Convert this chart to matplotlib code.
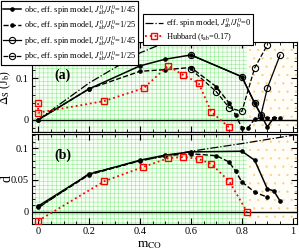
import numpy as np
import matplotlib
matplotlib.use('Agg')
from matplotlib import pyplot as plt

plt.rcParams['font.family'] = ['Liberation Serif', 'DejaVu Serif']
plt.rcParams['mathtext.fontset'] = 'stix'
plt.rcParams['hatch.linewidth'] = 0.35

# =============================================================================
# Data
# =============================================================================
# panel (a): spin gap
m_obc45_a = [0, 0.2, 0.4, 0.5, 0.6, 0.8, 0.85, 0.875, 0.9, 0.925]
gap_obc45 = [0, 0.074, 0.129, 0.145, 0.155, 0.103, 0.040, 0.012, -0.017, 0.005]
m_obc25_a = [0, 0.2, 0.4, 0.5, 0.6, 0.7, 0.75, 0.775, 0.8, 0.825, 0.85, 0.875, 0.9, 0.95]
gap_obc25 = [0, 0.074, 0.116, 0.120, 0.125, 0.079, 0.040, 0.012, -0.019, -0.019, 0.002, 0.005, 0.005, 0.005]
m_pbc45 = [0.6, 0.8, 0.85, 0.875, 0.9, 0.95]
gap_pbc45 = [0.155, 0.103, 0.040, 0.012, 0.076, 0.155]
m_pbc25 = [0.6, 0.7, 0.75, 0.8, 0.85, 0.9]
gap_pbc25 = [0.121, 0.067, 0.029, 0.020, 0.124, 0.179]
m_j0_a = [0, 0.2, 0.4, 0.6]
gap_j0 = [0, 0.088, 0.160, 0.210]
m_hub_a = [0, 0, 0.26, 0.415, 0.51, 0.57, 0.63, 0.68, 0.75]
gap_hub = [0.040, 0.017, 0.045, 0.076, 0.129, 0.107, 0.088, 0.019, -0.018]

# panel (b): d
m_obc45_b = [0, 0.2, 0.4, 0.5, 0.6, 0.8, 0.85, 0.9, 0.925, 0.95]
d_obc45 = [0.009, 0.059, 0.081, 0.089, 0.094, 0.095, 0.081, 0.036, 0.033, 0.017]
m_obc25_b = [0, 0.2, 0.4, 0.5, 0.6, 0.7, 0.75, 0.775, 0.8, 0.85, 0.9]
d_obc25 = [0.007, 0.058, 0.080, 0.088, 0.091, 0.088, 0.078, 0.064, 0.047, 0.031, 0.023]
m_j0_b = [0, 0.2, 0.4, 0.6, 0.8, 1.0]
d_j0 = [0.006, 0.060, 0.080, 0.095, 0.107, 0.120]
m_hub_b = [0, 0.26, 0.41, 0.51, 0.57, 0.63, 0.68, 0.75, 0.82]
d_hub = [-0.014, 0.048, 0.070, 0.084, 0.086, 0.083, 0.075, 0.048, 0.0]

m_border = 0.82

lab45 = r'obc, eff. spin model, $J^{0}_{\rm ab}/J^{0}_{\rm b}$=1/45'
lab25 = r'obc, eff. spin model, $J^{0}_{\rm ab}/J^{0}_{\rm b}$=1/25'
labp45 = r'pbc, eff. spin model, $J^{0}_{\rm ab}/J^{0}_{\rm b}$=1/45'
labp25 = r'pbc, eff. spin model, $J^{0}_{\rm ab}/J^{0}_{\rm b}$=1/25'
labj0 = r'eff. spin model, $J^{0}_{\rm ab}/J^{0}_{\rm b}$=0'
labhub = r'Hubbard (t$_{\rm ab}$=0.17)'

# =============================================================================
# Figure
# =============================================================================
fig = plt.figure(figsize=(2.99, 2.50), dpi=100)
ax1 = fig.add_axes([0.107, 0.472, 0.886, 0.360])
ax2 = fig.add_axes([0.107, 0.104, 0.886, 0.360])

def background(ax):
    ax.axvspan(-0.1, m_border, facecolor='#f6fff4', edgecolor='#8aec8a', hatch='++++', lw=0, zorder=0)
    ax.axvspan(m_border, 1.1, facecolor='#fffdf8', edgecolor='#ffcc80', hatch='..', lw=0, zorder=0)
    ax.axhline(0, color='k', lw=1.0, zorder=1)

def ticks(ax):
    ax.tick_params(which='both', direction='in', top=True, right=True, labelsize=7.5)
    ax.tick_params(which='major', length=4, width=0.8, pad=2.5)
    ax.tick_params(which='minor', length=2, width=0.6)
    ax.set_xticks(np.arange(0, 1.01, 0.2))
    ax.set_xticks(np.arange(0, 1.01, 0.05), minor=True)
    ax.set_xlim(-0.024, 1.016)

# panel (a)
#------------------------------------------------------------------------------
background(ax1)
ax1.plot(m_obc45_a, gap_obc45, 'k-', marker='o', ms=2.3, lw=1.1, label=lab45, zorder=3)
ax1.plot(m_obc25_a, gap_obc25, 'k--', marker='o', ms=2.3, lw=1.0, label=lab25, zorder=3)
ax1.plot(m_pbc45, gap_pbc45, 'k-', marker='o', ms=4.5, mfc='none', mew=0.8, lw=0.9, label=labp45, zorder=3)
ax1.plot(m_pbc25, gap_pbc25, 'k--', marker='o', ms=4.5, mfc='none', mew=0.8, lw=0.9, label=labp25, zorder=3)
ax1.plot(m_j0_a, gap_j0, 'k-.', lw=0.9, label=labj0, zorder=3)
ax1.plot(m_hub_a, gap_hub, color='red', ls=':', lw=1.3, marker='s', ms=4.5, mfc='none', mec='red', label=labhub, zorder=3)
ticks(ax1)
ax1.set_ylim(-0.029, 0.186)
ax1.set_yticks([0, 0.1])
ax1.set_yticklabels(['0', '0.1'])
ax1.set_yticks(np.arange(-0.02, 0.181, 0.02), minor=True)
ax1.set_xticklabels([])
ax1.set_ylabel(r'$\Delta_{\rm S}$ (J$_{\rm b}$)', fontsize=8.5)
ax1.yaxis.set_label_coords(-0.07, 0.5)
ax1.text(0.065, 0.107, '(a)', fontsize=10, fontweight='bold', va='center')

# panel (b)
#------------------------------------------------------------------------------
background(ax2)
ax2.plot(m_obc45_b, d_obc45, 'k-', marker='o', ms=2.3, lw=1.1, zorder=3)
ax2.plot(m_obc25_b, d_obc25, 'k--', marker='o', ms=2.3, lw=1.0, zorder=3)
ax2.plot(m_j0_b, d_j0, 'k-.', lw=0.9, zorder=3)
ax2.plot(m_hub_b, d_hub, color='red', ls=':', lw=1.3, marker='s', ms=4.5, mfc='none', mec='red', zorder=3)
ticks(ax2)
ax2.set_ylim(-0.019, 0.122)
ax2.set_yticks([0, 0.05, 0.1])
ax2.set_yticklabels(['0', '0.05', '0.1'])
ax2.set_yticks(np.arange(-0.01, 0.121, 0.01), minor=True)
ax2.set_xticklabels(['0', '0.2', '0.4', '0.6', '0.8', '1'])
ax2.set_ylabel('d', fontsize=10)
ax2.yaxis.set_label_coords(-0.07, 0.5)
ax2.set_xlabel(r'm$_{\rm CO}$', fontsize=9.5)
ax2.xaxis.set_label_coords(0.445, -0.17)
ax2.text(0.065, 0.089, '(b)', fontsize=10, fontweight='bold', va='center')

# legends
#------------------------------------------------------------------------------
h, l = ax1.get_legend_handles_labels()
leg1 = fig.legend(h[:4], l[:4], loc='upper left', bbox_to_anchor=(0.0, 1.0), fontsize=6.0,
                  frameon=True, fancybox=False, edgecolor='k', framealpha=1,
                  handlelength=2.2, handletextpad=0.3, labelspacing=0.2, borderpad=0.25,
                  borderaxespad=0.1)
leg1.get_frame().set_linewidth(0.8)
leg2 = fig.legend(h[4:], l[4:], loc='upper left', bbox_to_anchor=(0.478, 0.944), fontsize=6.0,
                  frameon=True, fancybox=False, edgecolor='k', framealpha=1,
                  handlelength=2.2, handletextpad=0.3, labelspacing=0.2, borderpad=0.25,
                  borderaxespad=0.0)
leg2.get_frame().set_linewidth(0.8)
fig.add_artist(leg1)

fig.savefig('out.png', dpi=100)
